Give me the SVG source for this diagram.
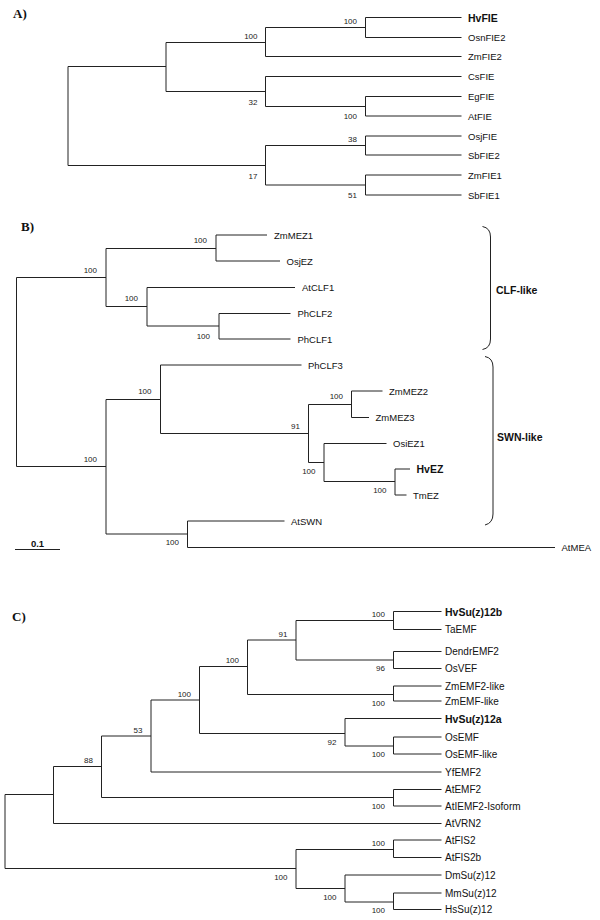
<svg xmlns="http://www.w3.org/2000/svg" width="600" height="920" viewBox="0 0 600 920">
<style>
.br{fill:none;stroke:#222;stroke-width:1;}
.lf{font-family:"Liberation Sans",Arial,sans-serif;font-size:9.5px;fill:#111;}
.lc{font-family:"Liberation Sans",Arial,sans-serif;font-size:10px;fill:#111;}
.b{font-weight:bold;font-size:10.5px;}
.bs{font-family:"Liberation Sans",Arial,sans-serif;font-size:8px;fill:#222;text-anchor:end;}
.pl{font-family:"Liberation Serif","Times New Roman",serif;font-size:13px;font-weight:bold;fill:#111;}
.gl{font-family:"Liberation Sans",Arial,sans-serif;font-size:10.5px;font-weight:bold;fill:#111;}
</style>
<rect width="600" height="920" fill="#fff"/>
<text class="pl" x="13" y="18">A)</text>
<text class="pl" x="21" y="231">B)</text>
<text class="pl" x="12" y="621">C)</text>

<g id="connectors">
<!-- Panel A -->
<path class="br" d="M68 66.5V165.5M68 66.5H166M68 165.5H265.5
M166 42.5V91.5M166 42.5H265.5M166 91.5H265.5
M265.5 27.5V56.5M265.5 27.5H365.5M265.5 56.5H461.5
M365.5 17.5V37.5M365.5 17.5H461.5M365.5 37.5H461.5
M265.5 76.5V106.5M265.5 76.5H461.5M265.5 106.5H365.5
M365.5 96.5V116M365.5 96.5H461.5M365.5 116H461.5
M265.5 145.5V185M265.5 145.5H365.5M265.5 185H365.5
M365.5 136V155M365.5 136H461.5M365.5 155H461.5
M365.5 175V195M365.5 175H461.5M365.5 195H461.5"/>
<!-- Panel B -->
<path class="br" d="M16.5 277.5V466.5M16.5 277.5H106M16.5 466.5H106
M106 248.5V306.5M106 248.5H216M106 306.5H147
M216 235V261M216 235H267M216 261H280
M147 287.5V326M147 287.5H295M147 326H219
M219 313.5V339M219 313.5H290.5M219 339H290.5
M106 399.5V534M106 399.5H160.5M106 534H187.5
M160.5 365V433.5M160.5 365H301.5M160.5 433.5H308.5
M308.5 404.5V462.5M308.5 404.5H351.5M308.5 462.5H324
M351.5 391V417.5M351.5 391H382.5M351.5 417.5H369
M324 443.5V481.5M324 443.5H386.5M324 481.5H395
M395 469V495M395 469H410M395 495H406.5
M187.5 521V547.5M187.5 521H284.5M187.5 547.5H555"/>
<path class="br" d="M15 549.5H60"/>
<path class="br" stroke-width="1.5" d="M482.5 226.5Q490.5 228 490.5 237V339Q490.5 348 482.5 349.5"/>
<path class="br" stroke-width="1.5" d="M485 356.5Q493 358 493 367V514Q493 523 485 525"/>
<!-- Panel C -->
<path class="br" d="M5 794.5V868.5M5 794.5H53.5M5 868.5H296
M53.5 766.5V823.5M53.5 766.5H101.5M53.5 823.5H441.5
M101.5 736V797.5M101.5 736H151M101.5 797.5H393.5
M151 700V772M151 700H199.5M151 772H441.5
M199.5 666.5V733.5M199.5 666.5H247.5M199.5 733.5H345
M247.5 640V694.5M247.5 640H296M247.5 694.5H393.5
M296 620.5V660M296 620.5H393.5M296 660H393.5
M393.5 611.5V629.5M393.5 611.5H441.5M393.5 629.5H441.5
M393.5 651.5V668.5M393.5 651.5H441.5M393.5 668.5H441.5
M393.5 686V701M393.5 686H441.5M393.5 701H441.5
M345 718.5V746M345 718.5H441.5M345 746H393.5
M393.5 737V754M393.5 737H441.5M393.5 754H441.5
M393.5 789.5V806M393.5 789.5H441.5M393.5 806H441.5
M296 849.5V888.5M296 849.5H393.5M296 888.5H345
M393.5 840V857.5M393.5 840H441.5M393.5 857.5H441.5
M345 875V902M345 875H441.5M345 902H393.5
M393.5 893V909.5M393.5 893H441.5M393.5 909.5H441.5"/>
</g>

<g id="support">
<text class="bs" x="257.5" y="38.5">100</text>
<text class="bs" x="357" y="23.5">100</text>
<text class="bs" x="257.5" y="104.5">32</text>
<text class="bs" x="357" y="119">100</text>
<text class="bs" x="257.5" y="178.5">17</text>
<text class="bs" x="357" y="142">38</text>
<text class="bs" x="357" y="198">51</text>

<text class="bs" x="97" y="272.5">100</text>
<text class="bs" x="207" y="243">100</text>
<text class="bs" x="138" y="301">100</text>
<text class="bs" x="210" y="338.5">100</text>
<text class="bs" x="97" y="461.5">100</text>
<text class="bs" x="151.5" y="394">100</text>
<text class="bs" x="300" y="428.5">91</text>
<text class="bs" x="343" y="399">100</text>
<text class="bs" x="315.5" y="474">100</text>
<text class="bs" x="386.5" y="493">100</text>
<text class="bs" x="179" y="545">100</text>

<text class="bs" x="93" y="762.5">88</text>
<text class="bs" x="142.5" y="732.5">53</text>
<text class="bs" x="191" y="696.5">100</text>
<text class="bs" x="239" y="663">100</text>
<text class="bs" x="287.5" y="636.5">91</text>
<text class="bs" x="385" y="617">100</text>
<text class="bs" x="385" y="671">96</text>
<text class="bs" x="385" y="705.5">100</text>
<text class="bs" x="336.5" y="744.5">92</text>
<text class="bs" x="385" y="757">100</text>
<text class="bs" x="385" y="808.5">100</text>
<text class="bs" x="287.5" y="880">100</text>
<text class="bs" x="385" y="845.5">100</text>
<text class="bs" x="336.5" y="899.5">100</text>
<text class="bs" x="385" y="912.5">100</text>
</g>

<g id="scale"><text x="37.5" y="546.5" text-anchor="middle" font-family="Liberation Sans, Arial, sans-serif" font-size="9.5" font-weight="bold" fill="#111">0.1</text></g>

<g id="HvFIE"><text class="lf b" x="468" y="21.5">HvFIE</text></g>
<g id="OsnFIE2"><text class="lf" x="468" y="41">OsnFIE2</text></g>
<g id="ZmFIE2"><text class="lf" x="468" y="60">ZmFIE2</text></g>
<g id="CsFIE"><text class="lf" x="468" y="80">CsFIE</text></g>
<g id="EgFIE"><text class="lf" x="468" y="100">EgFIE</text></g>
<g id="AtFIE"><text class="lf" x="468" y="119.5">AtFIE</text></g>
<g id="OsjFIE"><text class="lf" x="468" y="139.5">OsjFIE</text></g>
<g id="SbFIE2"><text class="lf" x="468" y="158.5">SbFIE2</text></g>
<g id="ZmFIE1"><text class="lf" x="468" y="178.5">ZmFIE1</text></g>
<g id="SbFIE1"><text class="lf" x="468" y="198.5">SbFIE1</text></g>

<g id="ZmMEZ1"><text class="lf" x="274" y="238.5">ZmMEZ1</text></g>
<g id="OsjEZ"><text class="lf" x="286.5" y="264.5">OsjEZ</text></g>
<g id="AtCLF1"><text class="lf" x="302" y="291">AtCLF1</text></g>
<g id="PhCLF2"><text class="lf" x="297.5" y="317">PhCLF2</text></g>
<g id="PhCLF1"><text class="lf" x="297.5" y="342.5">PhCLF1</text></g>
<g id="PhCLF3"><text class="lf" x="308" y="368.5">PhCLF3</text></g>
<g id="ZmMEZ2"><text class="lf" x="389" y="394.5">ZmMEZ2</text></g>
<g id="ZmMEZ3"><text class="lf" x="375.5" y="421">ZmMEZ3</text></g>
<g id="OsiEZ1"><text class="lf" x="393" y="447">OsiEZ1</text></g>
<g id="HvEZ"><text class="lf b" x="416.5" y="473">HvEZ</text></g>
<g id="TmEZ"><text class="lf" x="413" y="498.5">TmEZ</text></g>
<g id="AtSWN"><text class="lf" x="291" y="524.5">AtSWN</text></g>
<g id="AtMEA"><text class="lf" x="561.5" y="551">AtMEA</text></g>
<g id="CLF-like"><text class="gl" x="496" y="294">CLF-like</text></g>
<g id="SWN-like"><text class="gl" x="497" y="440.5">SWN-like</text></g>

<g id="HvSu_z_12b"><text class="lc b" x="445" y="615.5">HvSu(z)12b</text></g>
<g id="TaEMF"><text class="lc" x="445" y="633">TaEMF</text></g>
<g id="DendrEMF2"><text class="lc" x="445" y="655">DendrEMF2</text></g>
<g id="OsVEF"><text class="lc" x="445" y="672">OsVEF</text></g>
<g id="ZmEMF2-like"><text class="lc" x="445" y="689.5">ZmEMF2-like</text></g>
<g id="ZmEMF-like"><text class="lc" x="445" y="704.5">ZmEMF-like</text></g>
<g id="HvSu_z_12a"><text class="lc b" x="445" y="722.5">HvSu(z)12a</text></g>
<g id="OsEMF"><text class="lc" x="445" y="740.5">OsEMF</text></g>
<g id="OsEMF-like"><text class="lc" x="445" y="757.5">OsEMF-like</text></g>
<g id="YfEMF2"><text class="lc" x="445" y="775.5">YfEMF2</text></g>
<g id="AtEMF2"><text class="lc" x="445" y="793">AtEMF2</text></g>
<g id="AtIEMF2-Isoform"><text class="lc" x="445" y="809.5">AtIEMF2-Isoform</text></g>
<g id="AtVRN2"><text class="lc" x="445" y="827">AtVRN2</text></g>
<g id="AtFIS2"><text class="lc" x="445" y="843.5">AtFIS2</text></g>
<g id="AtFIS2b"><text class="lc" x="445" y="861">AtFIS2b</text></g>
<g id="DmSu_z_12"><text class="lc" x="445" y="878.5">DmSu(z)12</text></g>
<g id="MmSu_z_12"><text class="lc" x="445" y="896.5">MmSu(z)12</text></g>
<g id="HsSu_z_12"><text class="lc" x="445" y="913">HsSu(z)12</text></g>
</svg>
